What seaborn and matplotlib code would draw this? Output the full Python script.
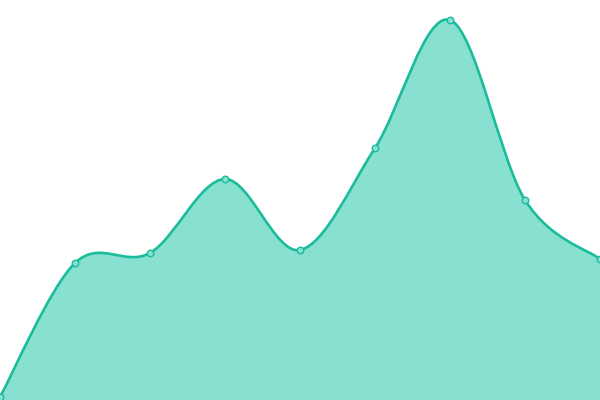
import numpy as np
import matplotlib
matplotlib.use("Agg")
import matplotlib.pyplot as plt
from matplotlib.path import Path
from matplotlib.patches import PathPatch
import pandas as pd
import seaborn as sns

# values (no axes shown)
steps = [0, 1, 2, 3, 4, 5, 6, 7, 8]
values = [3, 137, 147, 221, 150, 252, 380, 200, 141]

line_color = "#1abc9c"
fill_color = "#88e0d0"

sns.set_theme(style="white")

df = pd.DataFrame({"step": steps, "value": values})

fig = plt.figure(figsize=(6, 4), dpi=100)
ax = fig.add_axes([0, 0, 1, 1])

# smooth curve through the points as cubic bezier segments (catmull-rom)
pts = np.column_stack([df["step"], df["value"]]).astype(float)
ext = np.vstack([pts[0], pts, pts[-1]])
verts = [tuple(pts[0])]
codes = [Path.MOVETO]
for i in range(len(pts) - 1):
    p0, p1, p2, p3 = ext[i], ext[i + 1], ext[i + 2], ext[i + 3]
    c1 = p1 + (p2 - p0) / 6
    c2 = p2 - (p3 - p1) / 6
    verts += [tuple(c1), tuple(c2), tuple(p2)]
    codes += [Path.CURVE4] * 3

line_path = Path(verts, codes)
area_path = Path(verts + [(pts[-1][0], 0), (pts[0][0], 0), tuple(pts[0])],
                 codes + [Path.LINETO, Path.LINETO, Path.CLOSEPOLY])

ax.add_patch(PathPatch(area_path, facecolor=fill_color, edgecolor="none", zorder=1))
ax.add_patch(PathPatch(line_path, facecolor="none", edgecolor=line_color, lw=1.9, zorder=2))

sns.scatterplot(data=df, x="step", y="value", ax=ax, s=22, color=fill_color,
                edgecolor=line_color, linewidth=1.0, zorder=3, clip_on=True)

ax.set_xlim(0, 8)
ax.set_ylim(0, 400)
ax.set_axis_off()

fig.savefig("out.png", dpi=100)
